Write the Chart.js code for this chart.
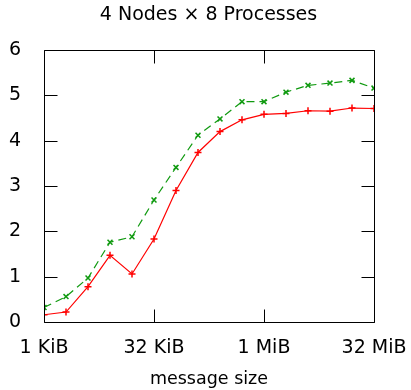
<!DOCTYPE html>
<html>
<head>
<meta charset="utf-8">
<script src="https://cdn.jsdelivr.net/npm/chart.js@4.4.1/dist/chart.umd.min.js"></script>
<style>
  html, body { margin: 0; padding: 0; background: #ffffff; }
  #wrap { width: 411px; height: 390px; }
</style>
</head>
<body>
<div id="wrap"><canvas id="c" width="411" height="390"></canvas></div>
<script>
// message sizes in KiB
const messageSizesKiB = [1, 2, 4, 8, 16, 32, 64, 128, 256, 512, 1024, 2048, 4096, 8192, 16384, 32768];
const seriesRed = [0.16, 0.22, 0.78, 1.47, 1.06, 1.83, 2.90, 3.74, 4.20, 4.46, 4.58, 4.60, 4.66, 4.65, 4.72, 4.71];
const seriesGreen = [0.32, 0.56, 0.97, 1.76, 1.88, 2.69, 3.41, 4.12, 4.48, 4.86, 4.86, 5.07, 5.22, 5.27, 5.33, 5.16];
const xTickValues = [1, 32, 1024, 32768];
const xTickLabels = ['1 KiB', '32 KiB', '1 MiB', '32 MiB'];
const yTickValues = [0, 1, 2, 3, 4, 5, 6];
const titleText = '4 Nodes \u00d7 8 Processes';
const xAxisTitle = 'message size';

const FONT = "'DejaVu Sans', sans-serif";

const framePlugin = {
  id: 'frame',
  afterDatasetsDraw(chart) {
    const {ctx, chartArea: a, scales} = chart;
    const L = Math.round(a.left) + 0.5, R = Math.round(a.right) + 0.5;
    const T = Math.round(a.top) + 0.5, B = Math.round(a.bottom) + 0.5;
    const len = 13;
    ctx.save();
    ctx.strokeStyle = '#000';
    ctx.lineWidth = 1;
    ctx.beginPath();
    ctx.rect(L, T, R - L, B - T);
    scales.x.ticks.forEach(t => {
      const x = Math.round(scales.x.getPixelForValue(t.value)) + 0.5;
      ctx.moveTo(x, B); ctx.lineTo(x, B - len);
      ctx.moveTo(x, T); ctx.lineTo(x, T + len);
    });
    scales.y.ticks.forEach(t => {
      const y = Math.round(scales.y.getPixelForValue(t.value)) + 0.5;
      ctx.moveTo(L, y); ctx.lineTo(L + len, y);
      ctx.moveTo(R, y); ctx.lineTo(R - len, y);
    });
    ctx.stroke();
    ctx.restore();
  }
};

new Chart(document.getElementById('c'), {
  type: 'line',
  data: {
    datasets: [
      {
        label: 'red',
        data: messageSizesKiB.map((s, i) => ({x: s, y: seriesRed[i]})),
        borderColor: '#ff0000',
        backgroundColor: '#ff0000',
        borderWidth: 1.2,
        pointStyle: 'cross',
        pointRadius: 3.5,
        pointBorderWidth: 1.5,
        pointHoverRadius: 3.5,
        tension: 0,
        fill: false
      },
      {
        label: 'green',
        data: messageSizesKiB.map((s, i) => ({x: s, y: seriesGreen[i]})),
        borderColor: '#109a10',
        backgroundColor: '#109a10',
        borderWidth: 1.2,
        borderDash: [8, 5],
        pointStyle: 'crossRot',
        pointRadius: 3.5,
        pointBorderWidth: 1.5,
        pointHoverRadius: 3.5,
        tension: 0,
        fill: false
      }
    ]
  },
  options: {
    responsive: false,
    animation: false,
    devicePixelRatio: 1,
    layout: { padding: { left: 6, right: 0, top: 0, bottom: 0 } },
    plugins: {
      legend: { display: false },
      tooltip: { enabled: false },
      title: {
        display: true,
        text: titleText,
        color: '#000',
        font: { family: FONT, size: 19, weight: 'normal' },
        padding: { top: 4, bottom: 23.2 }
      }
    },
    scales: {
      x: {
        type: 'logarithmic',
        min: 1,
        max: 32768,
        afterBuildTicks(scale) { scale.ticks = xTickValues.map(v => ({value: v})); },
        afterFit(scale) { scale.height = 68; scale.paddingLeft = 0; scale.paddingRight = 37; },
        grid: { display: false, drawTicks: false },
        border: { display: false },
        ticks: {
          autoSkip: false,
          maxRotation: 0,
          padding: 15,
          color: '#000',
          font: { family: FONT, size: 19 },
          callback(v) { const i = xTickValues.indexOf(v); return i >= 0 ? xTickLabels[i] : ''; }
        },
        title: {
          display: true,
          text: xAxisTitle,
          color: '#000',
          font: { family: FONT, size: 17.5 },
          padding: { top: 0, bottom: 0 }
        }
      },
      y: {
        type: 'linear',
        min: 0,
        max: 6,
        afterBuildTicks(scale) { scale.ticks = yTickValues.map(v => ({value: v})); },
        afterFit(scale) { scale.width = 38; },
        grid: { display: false, drawTicks: false },
        border: { display: false },
        ticks: {
          padding: 23,
          color: '#000',
          font: { family: FONT, size: 19 }
        }
      }
    }
  },
  plugins: [framePlugin]
});
</script>
</body>
</html>
